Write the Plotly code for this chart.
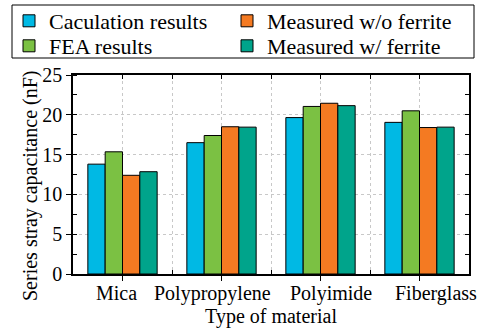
import plotly.graph_objects as go

materials = ["Mica", "Polypropylene", "Polyimide", "Fiberglass"]
label_shift = [-6, -9, 10, 16]  # horizontal nudges of the category labels (px)
series_names = ["Caculation results", "FEA results", "Measured w/o ferrite", "Measured w/ ferrite"]
calc_vals = [13.8, 16.5, 19.65, 19.05]
fea_vals = [15.35, 17.4, 21.05, 20.5]
meas_no_ferrite = [12.4, 18.5, 21.45, 18.4]
meas_ferrite = [12.85, 18.45, 21.15, 18.45]
colors = ["#00B9E4", "#7BC143", "#F47A22", "#00A48B"]

y_ticks = [0, 5, 10, 15, 20, 25]
x_pos = list(range(len(materials)))
boundaries = [p + 0.5 for p in x_pos[:-1]]

FONT = "Liberation Serif, Times New Roman, serif"
W, H = 482, 330
M_L, M_R, M_T, M_B = 73, 13, 75, 56
font20 = dict(family=FONT, size=20, color="black")
font22 = dict(family=FONT, size=22, color="black")

# one legend per entry so the 2x2 block can be laid out exactly (x px, top px)
legend_ids = ["legend", "legend2", "legend3", "legend4"]
legend_xy = [(9, 0), (9, 25), (227, 0), (227, 25)]

fig = go.Figure()
for name, vals, col, lg in zip(series_names,
                               [calc_vals, fea_vals, meas_no_ferrite, meas_ferrite],
                               colors, legend_ids):
    fig.add_trace(go.Bar(
        x=x_pos, y=vals, name=name, legend=lg,
        marker=dict(color=col, line=dict(color="black", width=1)),
    ))

# companion axes carrying the inward ticks on the top and right frame edges
fig.add_trace(go.Scatter(x=[None], y=[None], xaxis="x2", yaxis="y2",
                         showlegend=False, hoverinfo="skip"))

grid_style = dict(gridcolor="#C8C8C8", griddash="dot", gridwidth=1)

pw, ph = W - M_L - M_R, H - M_T - M_B
def px_to_paper_x(px):
    return (px - M_L) / pw
def px_to_paper_y(py):
    return (H - M_B - py) / ph

# frame around the legend block
fig.add_shape(type="rect", xref="paper", yref="paper",
              x0=px_to_paper_x(12), x1=px_to_paper_x(474),
              y0=px_to_paper_y(58), y1=px_to_paper_y(5),
              line=dict(color="black", width=1), fillcolor="rgba(0,0,0,0)")

legend_layout = {}
for lg, (lx, ly) in zip(legend_ids, legend_xy):
    legend_layout[lg] = dict(
        xref="container", yref="container", xanchor="left", yanchor="top",
        x=lx / W, y=1 - ly / H, font=font22, itemwidth=30,
        bgcolor="rgba(0,0,0,0)", borderwidth=0,
    )

# category labels under the axis
for xp, txt, dx in zip(x_pos, materials, label_shift):
    fig.add_annotation(x=xp, y=0, xref="x", yref="paper", text=txt,
                       showarrow=False, yanchor="top", yshift=-6, xshift=dx,
                       font=font20)

# y-axis title
fig.add_annotation(x=px_to_paper_x(30), y=px_to_paper_y(186), xref="paper",
                   yref="paper", text="Series stray capacitance (nF)",
                   textangle=-90, showarrow=False, font=font20,
                   xanchor="center", yanchor="middle")

fig.update_layout(
    width=W, height=H,
    margin=dict(l=M_L, r=M_R, t=M_T, b=M_B, autoexpand=False),
    paper_bgcolor="white", plot_bgcolor="white",
    font=font20,
    barmode="group", bargap=0.3, bargroupgap=0,
    showlegend=True,
    **legend_layout,
    xaxis=dict(
        range=[-0.5, 3.5], tickvals=x_pos, showticklabels=False,
        ticks="outside", ticklen=5, tickcolor="black",
        showline=True, linecolor="black", linewidth=1.5,
        showgrid=True, **grid_style,
        minor=dict(tickvals=boundaries, ticks="inside", ticklen=4,
                   tickcolor="black", showgrid=True, **grid_style),
        title=dict(text="Type of material", standoff=29, font=font20),
        zeroline=False, automargin=False,
    ),
    yaxis=dict(
        range=[0, 25], tickvals=y_ticks, tickfont=font20,
        ticks="outside", ticklen=5, tickcolor="black",
        showline=True, linecolor="black", linewidth=1.5,
        showgrid=True, **grid_style,
        minor=dict(dtick=2.5, ticks="inside", ticklen=4, tickcolor="black",
                   showgrid=False),
        zeroline=False, automargin=False,
    ),
    xaxis2=dict(
        overlaying="x", side="top", range=[-0.5, 3.5],
        tickvals=x_pos + boundaries, ticks="inside", ticklen=4,
        tickcolor="black", showticklabels=False, showgrid=False,
        showline=True, linecolor="black", linewidth=1.5, zeroline=False,
    ),
    yaxis2=dict(
        overlaying="y", side="right", range=[0, 25],
        tickvals=[v / 2 for v in range(0, 51, 5)], ticks="inside", ticklen=4,
        tickcolor="black", showticklabels=False, showgrid=False,
        showline=True, linecolor="black", linewidth=1.5, zeroline=False,
    ),
)

fig.write_html("out.html")
